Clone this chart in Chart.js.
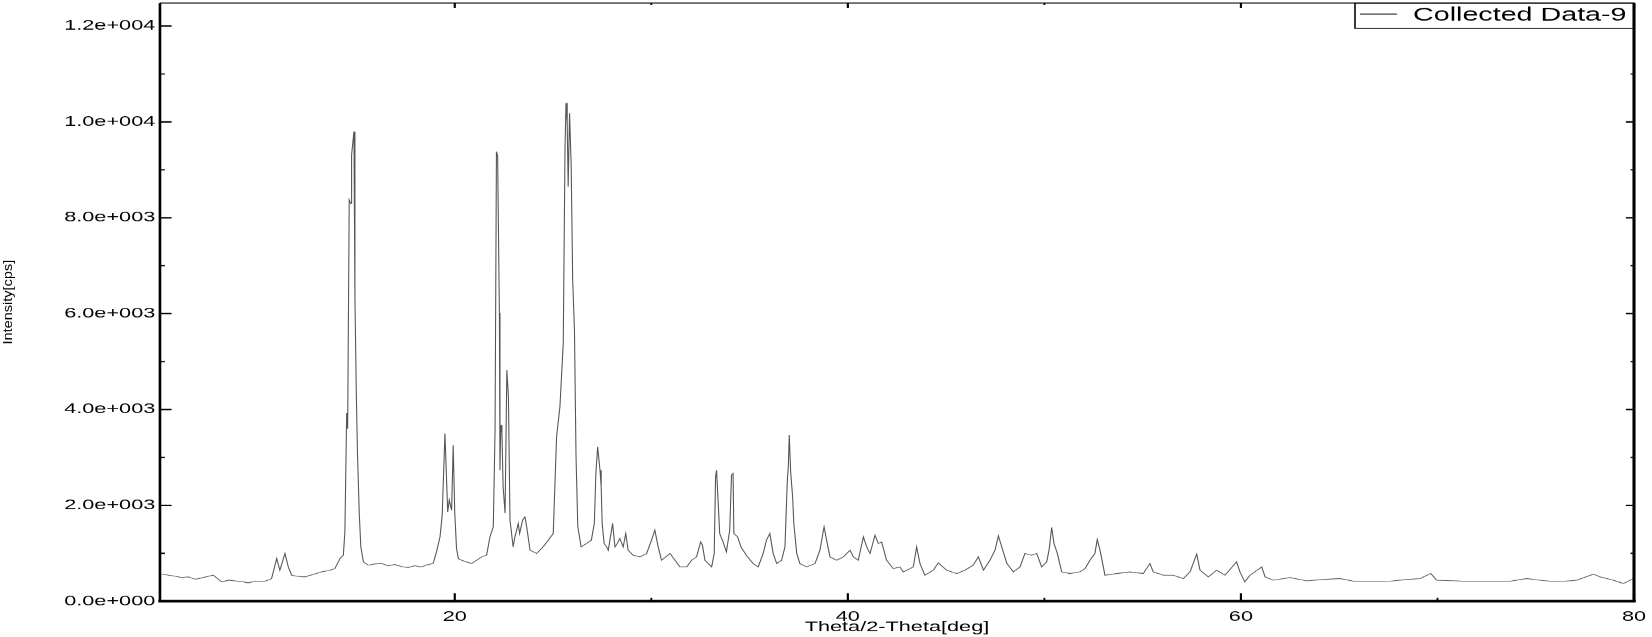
<!DOCTYPE html>
<html>
<head>
<meta charset="utf-8">
<script src="https://cdn.jsdelivr.net/npm/chart.js@4.4.1/dist/chart.umd.min.js"></script>
<style>
    html, body { margin: 0; padding: 0; background: #fff; }
    /* the source picture is stretched sideways, so the chart is drawn narrow and widened */
    #wrap {
        position: absolute; left: 0; top: 0;
        width: 1066px; height: 637px;
        transform: scaleX(1.5497); transform-origin: 0 0;
    }
</style>
</head>
<body>
<div id="wrap"><canvas id="xrdChart"></canvas></div>
<script>
const seriesLabel = 'Collected Data-9';

const twoTheta = [
    5.09, 5.4, 5.76, 6.1, 6.44, 6.8, 7.12, 7.45, 7.71, 8.14, 8.5, 8.82, 9.15, 9.49, 9.85, 10.17, 10.45, 10.68,
    10.94, 11.1, 11.36, 11.53, 11.7, 12.0, 12.38, 12.8, 13.23, 13.6, 13.9, 14.16, 14.33, 14.41, 14.5, 14.55,
    14.63, 14.7, 14.75, 14.87, 14.92, 14.99, 15.05, 15.14, 15.22, 15.35, 15.6, 15.95, 16.28, 16.6, 16.96, 17.3,
    17.63, 17.95, 18.31, 18.6, 18.9, 19.07, 19.25, 19.36, 19.5, 19.64, 19.72, 19.84, 19.92, 20.0, 20.09, 20.18,
    20.35, 20.6, 20.86, 21.1, 21.37, 21.62, 21.79, 21.96, 22.05, 22.12, 22.18, 22.27, 22.3, 22.34, 22.4, 22.46,
    22.56, 22.65, 22.73, 22.81, 22.97, 23.06, 23.23, 23.3, 23.45, 23.57, 23.66, 23.83, 24.17, 24.5, 24.76, 25.01,
    25.18, 25.35, 25.52, 25.61, 25.66, 25.72, 25.77, 25.84, 25.92, 26.0, 26.09, 26.17, 26.26, 26.43, 26.7, 26.95,
    27.1, 27.18, 27.27, 27.39, 27.45, 27.5, 27.6, 27.73, 27.81, 28.03, 28.15, 28.27, 28.4, 28.57, 28.7, 28.82,
    29.08, 29.42, 29.76, 30.01, 30.18, 30.35, 30.52, 30.95, 31.46, 31.8, 32.05, 32.3, 32.51, 32.6, 32.73, 33.07,
    33.2, 33.27, 33.32, 33.4, 33.48, 33.65, 33.82, 33.99, 34.08, 34.16, 34.2, 34.39, 34.56, 34.85, 35.18, 35.44,
    35.69, 35.86, 36.03, 36.2, 36.38, 36.63, 36.8, 36.92, 36.97, 37.02, 37.09, 37.19, 37.25, 37.4, 37.56, 37.9,
    38.33, 38.58, 38.79, 38.92, 39.09, 39.43, 39.77, 40.11, 40.28, 40.53, 40.79, 40.96, 41.13, 41.38, 41.55, 41.72,
    41.97, 42.31, 42.65, 42.82, 43.33, 43.5, 43.67, 43.92, 44.35, 44.6, 45.03, 45.54, 45.96, 46.38, 46.64, 46.9,
    47.23, 47.49, 47.66, 47.83, 48.09, 48.42, 48.76, 49.01, 49.35, 49.61, 49.86, 50.12, 50.25, 50.37, 50.49, 50.66,
    50.88, 51.3, 51.81, 52.07, 52.32, 52.57, 52.69, 52.83, 53.0, 53.08, 53.68, 54.35, 55.03, 55.37, 55.54, 56.05,
    56.56, 57.07, 57.41, 57.75, 57.92, 58.34, 58.77, 59.19, 59.78, 59.95, 60.2, 60.46, 61.06, 61.23, 61.65, 62.5,
    63.35, 64.19, 65.04, 65.89, 66.74, 67.59, 68.44, 69.11, 69.66, 69.96, 70.98, 71.83, 72.67, 73.52, 74.54, 75.22,
    76.07, 77.09, 77.93, 78.27, 78.95, 79.46, 79.97
];

const intensity = [
    563, 545, 522, 495, 508, 459, 487, 520, 543, 404, 440, 424, 410, 383, 420, 404, 430, 473,
    891, 647, 996, 716, 543, 520, 508, 560, 612, 640, 682, 891, 960, 1447, 3925, 3600,
    8373, 8300, 9312, 9800, 6354, 4343, 3090, 1837, 1134, 821, 752, 780, 787, 740, 766, 720,
    703, 740, 716, 760, 787, 1029, 1343, 1796, 3501, 1865, 2109, 1900, 3257, 1837, 1100, 891,
    856, 820, 787, 850, 925, 960, 1343, 1552, 3570, 9382, 9300, 6013, 2735, 3675, 3508, 2387,
    1837, 4823, 4266, 1691, 1134, 1343, 1622, 1413, 1691, 1760, 1552, 1065, 996, 1134, 1274, 1413,
    3431, 4057, 5381, 9486, 10392, 9974, 8651, 10183, 9139, 6702, 5658, 3013, 1552, 1134, 1204, 1274,
    1622, 2666, 3222, 2735, 2387, 1622, 1204, 1134, 1065, 1622, 1134, 1204, 1309, 1134, 1413, 1065,
    960, 925, 996, 1274, 1482, 1134, 856, 996, 716, 716, 856, 925, 1238, 1169, 856, 716,
    996, 2596, 2735, 2073, 1413, 1238, 1029, 1482, 2631, 2666, 1413, 1343, 1134, 950, 787, 716,
    996, 1274, 1413, 996, 787, 856, 1134, 2527, 2805, 3466, 2700, 2178, 1622, 996, 787, 716,
    787, 1065, 1552, 1274, 925, 856, 925, 1065, 925, 856, 1343, 1134, 996, 1378, 1204, 1238,
    856, 682, 716, 612, 716, 1134, 787, 543, 647, 800, 647, 578, 647, 752, 925, 647,
    856, 1065, 1364, 1134, 787, 612, 716, 996, 960, 996, 716, 821, 1100, 1538, 1204, 996,
    612, 578, 612, 682, 856, 996, 1288, 1065, 716, 543, 578, 612, 578, 787, 612, 543,
    543, 473, 612, 981, 647, 508, 647, 543, 821, 612, 404, 543, 716, 508, 438, 494,
    424, 453, 473, 404, 404, 418, 453, 473, 578, 438, 424, 404, 404, 404, 473, 438,
    404, 438, 564, 508, 438, 370, 473
];

const xLabelTicks = [20, 40, 60, 80];
const xMinorTicks = [30, 50, 70];
const yLabelTicks = [0, 2000, 4000, 6000, 8000, 10000, 12000];
const yMinorTicks = [1000, 3000, 5000, 7000, 9000, 11000];

const xTitle = 'Theta/2-Theta[deg]';
const yTitle = 'Intensity[cps]';

const FONT = "'Liberation Sans', Arial, sans-serif";

// 1.2e+004 style labels
function sciLabel(v) {
    if (v === 0) return '0.0e+000';
    const e = Math.floor(Math.log10(Math.abs(v)));
    const m = v / Math.pow(10, e);
    return m.toFixed(1) + 'e+' + String(e).padStart(3, '0');
}

// frame, inward ticks, y title and boxed legend
const framePlugin = {
    id: 'frame',
    afterDraw(chart) {
        const ctx = chart.ctx;
        const a = chart.chartArea;
        const xs = chart.scales.x;
        const ys = chart.scales.y;
        ctx.save();
        ctx.strokeStyle = '#000';
        ctx.lineCap = 'butt';

        function xTicks(vals, len) {
            vals.forEach(function(v) {
                const px = xs.getPixelForValue(v);
                ctx.beginPath();
                ctx.moveTo(px, a.bottom); ctx.lineTo(px, a.bottom - len);
                ctx.moveTo(px, a.top); ctx.lineTo(px, a.top + len * 0.6);
                ctx.stroke();
            });
        }
        function yTicks(vals, len) {
            vals.forEach(function(v) {
                const py = ys.getPixelForValue(v);
                ctx.beginPath();
                ctx.moveTo(a.left, py); ctx.lineTo(a.left + len, py);
                ctx.moveTo(a.right, py); ctx.lineTo(a.right - len * 0.7, py);
                ctx.stroke();
            });
        }
        ctx.lineWidth = 1.4;
        xTicks(xLabelTicks, 8);
        yTicks(yLabelTicks, 7.5);
        ctx.lineWidth = 1.2;
        xTicks(xMinorTicks, 3.5);
        yTicks(yMinorTicks, 3.2);

        // legend box
        const lx = 874.2, ly = a.top, lw = a.right - 874.2, lh = 25.3;
        ctx.fillStyle = '#fff';
        ctx.fillRect(lx, ly, lw, lh);
        ctx.lineWidth = 1;
        ctx.strokeRect(lx, ly, lw, lh);
        ctx.beginPath();
        ctx.lineWidth = 0.9;
        ctx.moveTo(877.4, 14); ctx.lineTo(901.3, 14);
        ctx.stroke();
        ctx.fillStyle = '#000';
        ctx.font = '18.5px ' + FONT;
        ctx.textBaseline = 'alphabetic';
        ctx.textAlign = 'left';
        ctx.fillText(chart.data.datasets[0].label, 911.6, 20.8);

        // frame lines
        ctx.lineWidth = 1.2;
        ctx.beginPath(); ctx.moveTo(a.left, a.top); ctx.lineTo(a.right, a.top); ctx.stroke();
        ctx.lineWidth = 1.7;
        ctx.beginPath(); ctx.moveTo(a.left, a.top); ctx.lineTo(a.left, a.bottom + 1); ctx.stroke();
        ctx.lineWidth = 2;
        ctx.beginPath(); ctx.moveTo(a.right, a.top); ctx.lineTo(a.right, a.bottom + 1); ctx.stroke();
        ctx.lineWidth = 2.5;
        ctx.beginPath(); ctx.moveTo(a.left - 1, a.bottom); ctx.lineTo(a.right + 1, a.bottom); ctx.stroke();

        // rotated y title, squeezed like the source
        ctx.translate(5.4, (a.top + a.bottom) / 2);
        ctx.rotate(-Math.PI / 2);
        ctx.scale(1, 0.55);
        ctx.font = '14.5px ' + FONT;
        ctx.textAlign = 'center';
        ctx.textBaseline = 'middle';
        ctx.fillText(yTitle, 0, 0);
        ctx.restore();
    }
};

const points = twoTheta.map(function(t, i) { return {x: t, y: intensity[i]}; });

Chart.defaults.font.family = FONT;
Chart.defaults.color = '#000';

const ctx = document.getElementById('xrdChart').getContext('2d');
new Chart(ctx, {
    type: 'line',
    data: {
        datasets: [{
            label: seriesLabel,
            data: points,
            borderColor: '#555555',
            borderWidth: 0.7,
            pointRadius: 0,
            tension: 0,
            fill: false
        }]
    },
    options: {
        responsive: true,
        maintainAspectRatio: false,
        devicePixelRatio: 1.55,
        animation: false,
        layout: {
            padding: { top: 3, right: 11.8, left: 0, bottom: 0 }
        },
        plugins: {
            legend: { display: false },
            tooltip: { enabled: false }
        },
        scales: {
            x: {
                type: 'linear',
                min: 5,
                max: 80,
                afterBuildTicks: function(scale) {
                    scale.ticks = xLabelTicks.map(function(v) { return {value: v}; });
                },
                afterFit: function(scale) {
                    scale.height = 36;
                    scale.paddingLeft = 0;
                    scale.paddingRight = 0;
                },
                grid: { display: false, drawTicks: false },
                border: { display: false },
                ticks: {
                    autoSkip: false,
                    maxRotation: 0,
                    padding: 7.5,
                    font: { size: 14 },
                    color: '#000'
                },
                title: {
                    display: true,
                    text: xTitle,
                    font: { size: 14 },
                    color: '#000',
                    padding: { top: 0, bottom: 1.5 }
                }
            },
            y: {
                type: 'linear',
                min: 0,
                max: 12480,
                afterBuildTicks: function(scale) {
                    scale.ticks = yLabelTicks.map(function(v) { return {value: v}; });
                },
                afterFit: function(scale) {
                    scale.width = 103.2;
                    scale.paddingTop = 0;
                    scale.paddingBottom = 0;
                },
                grid: { display: false, drawTicks: false },
                border: { display: false },
                ticks: {
                    padding: 3,
                    font: { size: 14 },
                    color: '#000',
                    callback: function(value) {
                        return sciLabel(value);
                    }
                }
            }
        }
    },
    plugins: [framePlugin]
});
</script>
</body>
</html>
